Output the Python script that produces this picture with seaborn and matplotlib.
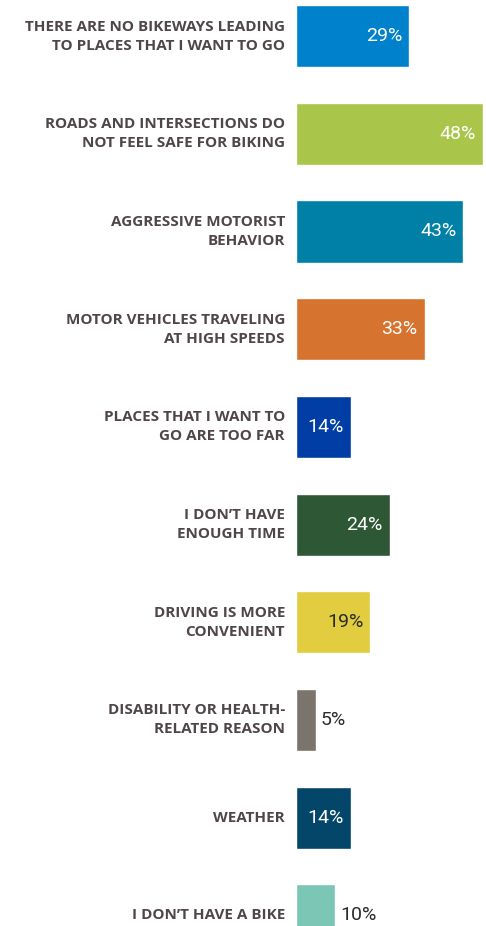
import pandas as pd
import matplotlib.pyplot as plt
import seaborn as sns

sns.set_style("white")
plt.rcParams['font.family'] = ['Open Sans', 'DejaVu Sans']

# chart data
reasons = [
    "THERE ARE NO BIKEWAYS LEADING\nTO PLACES THAT I WANT TO GO",
    "ROADS AND INTERSECTIONS DO\nNOT FEEL SAFE FOR BIKING",
    "AGGRESSIVE MOTORIST\nBEHAVIOR",
    "MOTOR VEHICLES TRAVELING\nAT HIGH SPEEDS",
    "PLACES THAT I WANT TO\nGO ARE TOO FAR",
    "I DON\u2019T HAVE\nENOUGH TIME",
    "DRIVING IS MORE\nCONVENIENT",
    "DISABILITY OR HEALTH-\nRELATED REASON",
    "WEATHER",
    "I DON\u2019T HAVE A BIKE",
]
percents = [29, 48, 43, 33, 14, 24, 19, 5, 14, 10]
colors = ["#0081cb", "#a9c64a", "#0080a6", "#d6742f", "#003ea6",
          "#2e5735", "#e1cd3f", "#7a746d", "#04466a", "#7cc6b5"]
# where the value label goes: inside white, inside dark, outside dark
label_style = ["in", "in", "in", "in", "in", "in", "in_dark", "out", "in", "out"]

df = pd.DataFrame({"reason": reasons, "pct": percents})

fig = plt.figure(figsize=(4.86, 9.26), dpi=100)
ax = fig.add_axes([0, 0, 1, 1])

sns.barplot(data=df, x="pct", y="reason", hue="reason", palette=colors,
            orient="h", width=0.635, legend=False, saturation=1, ax=ax)

ax.set_xlim(-76.3, 48.8)
ax.set_ylim(9.11, -0.37)
ax.axis("off")

label_color = "#4f4649"
for i, (r, p, s) in enumerate(zip(reasons, percents, label_style)):
    ax.text(-2.95, i, r, ha="right", va="center", fontsize=11,
            fontweight="bold", color=label_color, linespacing=1.45)
    if s == "in":
        ax.text(p - 1.8, i, f"{p}%", ha="right", va="center",
                fontsize=14, color="white", family="Roboto")
    elif s == "in_dark":
        ax.text(p - 1.8, i, f"{p}%", ha="right", va="center",
                fontsize=14, color="#2b2b2b", family="Roboto")
    else:
        ax.text(p + 1.2, i, f"{p}%", ha="left", va="center",
                fontsize=14, color="#2b2b2b", family="Roboto")

plt.savefig("out.png", dpi=100)
